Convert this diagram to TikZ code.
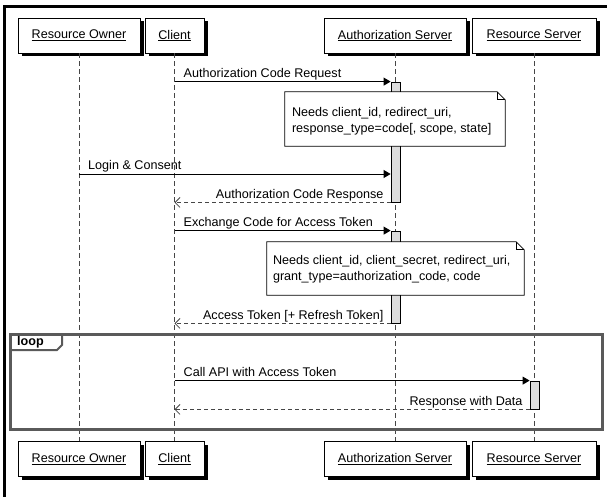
\documentclass[tikz,border=0pt]{standalone}
\usepackage{fontspec}
\setmainfont{Liberation Sans}
\usepackage{tikz}
\usetikzlibrary{arrows.meta, positioning, calc, shadows}
\usepackage{xcolor}
\definecolor{barfill}{RGB}{221,221,221}
\definecolor{framegray}{RGB}{90,90,90}
\definecolor{dashgray}{RGB}{70,70,70}

\tikzset{
  actor/.style={draw, fill=white, line width=0.9pt, minimum height=35pt, inner sep=0pt,
    drop shadow={shadow xshift=3.5pt, shadow yshift=-3.5pt, fill=black, opacity=1}},
  life/.style={dashgray, line width=0.8pt, dash pattern=on 5pt off 3pt},
  actbar/.style={draw, fill=barfill, line width=0.8pt, minimum width=9pt, inner sep=0pt},
  call/.style={line width=0.8pt, -{Triangle[length=7pt,width=8pt]}},
  reply/.style={dashgray, line width=0.8pt, dash pattern=on 4pt off 3pt, -{Straight Barb[length=5pt,width=10pt]}},
  notebox/.style={fill=white, inner sep=0pt},
  noteline/.style={line width=0.8pt},
  msglabel/.style={inner sep=0pt},
}

\begin{document}
\begin{tikzpicture}[x=1pt, y=-1pt, every node/.style={font=\fontsize{12.6}{16}\selectfont}]
  \useasboundingbox (0,0) rectangle (607,497);
  % outer frame
  \draw[line width=3pt] (4,497) -- (4,7) -- (607,7);

  % participants, top and bottom, with lifelines
  \foreach \n/\x/\w/\t in {ro/79/122/Resource Owner, cl/174.5/59/Client, as/395/142/Authorization Server, rs/534/124/Resource Server} {
    \node[actor, minimum width=\w pt] (\n-top) at (\x,35.5) {\underline{\t}};
    \node[actor, minimum width=\w pt] (\n-bot) at (\x,459) {\underline{\t}};
    \draw[life] (\n-top) -- (\n-bot);
  }

  % rows of the messages
  \coordinate (login) at (0,174);

  % activations
  \node[actbar, minimum height=120pt] (bar1) at (395.5,142) {};
  \node[actbar, minimum height=92pt] (bar2) at (395.5,277) {};
  \node[actbar, minimum height=28pt] (bar3) at (534.5,395) {};

  % authorization code request
  \draw[call] (cl-top |- bar1.north) -- (bar1.north west);
  \node[msglabel, anchor=base west] (m1) at ([xshift=9pt, yshift=4pt]cl-top |- bar1.north) {Authorization Code Request};
  \node[notebox, minimum width=220pt, minimum height=54pt] (note1) at (395,119) {};
  \draw[noteline] (note1.south west) -- (note1.north west) -- ([xshift=-8pt]note1.north east)
    -- ([yshift=-8pt]note1.north east) -- (note1.south east) -- cycle;
  \draw[noteline] ([xshift=-8pt]note1.north east) |- ([yshift=-8pt]note1.north east);
  \node[msglabel, anchor=west, align=left] (note1txt) at ([xshift=7pt, yshift=-2pt]note1.west)
    {Needs client\_id, redirect\_uri,\\response\_type=code[, scope, state]};

  % login
  \draw[call] (ro-top |- login) -- (bar1.west |- login);
  \node[msglabel, anchor=base west] (m2) at ([xshift=9pt, yshift=4pt]ro-top |- login) {Login \& Consent};

  \draw[reply] (bar1.south west) -- (cl-top |- bar1.south);
  \node[msglabel, anchor=base east] (m3) at ([xshift=-7pt, yshift=4pt]bar1.south west) {Authorization Code Response};

  % token exchange
  \draw[call] (cl-top |- bar2.north) -- (bar2.north west);
  \node[msglabel, anchor=base west] (m4) at ([xshift=9pt, yshift=4pt]cl-top |- bar2.north) {Exchange Code for Access Token};
  \node[notebox, minimum width=257pt, minimum height=53pt] (note2) at (395.5,268.5) {};
  \draw[noteline] (note2.south west) -- (note2.north west) -- ([xshift=-8pt]note2.north east)
    -- ([yshift=-8pt]note2.north east) -- (note2.south east) -- cycle;
  \draw[noteline] ([xshift=-8pt]note2.north east) |- ([yshift=-8pt]note2.north east);
  \node[msglabel, anchor=west, align=left] (note2txt) at ([xshift=6pt, yshift=-1pt]note2.west)
    {Needs client\_id, client\_secret, redirect\_uri,\\grant\_type=authorization\_code, code};

  \draw[reply] (bar2.south west) -- (cl-top |- bar2.south);
  \node[msglabel, anchor=base east] (m5) at ([xshift=-7pt, yshift=4pt]bar2.south west) {Access Token [+ Refresh Token]};

  % loop
  \draw[framegray, line width=3pt] (10,334) rectangle (602,429);
  \draw[framegray, line width=2pt] (10,350) -- (57,350) -- (62,345) -- (62,334);
  \node[msglabel, anchor=base west] (loop) at (17,345) {\textbf{loop}};

  \draw[call] (cl-top |- bar3.north) -- (bar3.north west);
  \node[msglabel, anchor=base west] (m6) at ([xshift=9pt, yshift=4pt]cl-top |- bar3.north) {Call API with Access Token};
  \draw[reply] (bar3.south west) -- (cl-top |- bar3.south);
  \node[msglabel, anchor=base east] (m7) at ([xshift=-7pt, yshift=4pt]bar3.south west) {Response with Data};
\end{tikzpicture}
\end{document}
